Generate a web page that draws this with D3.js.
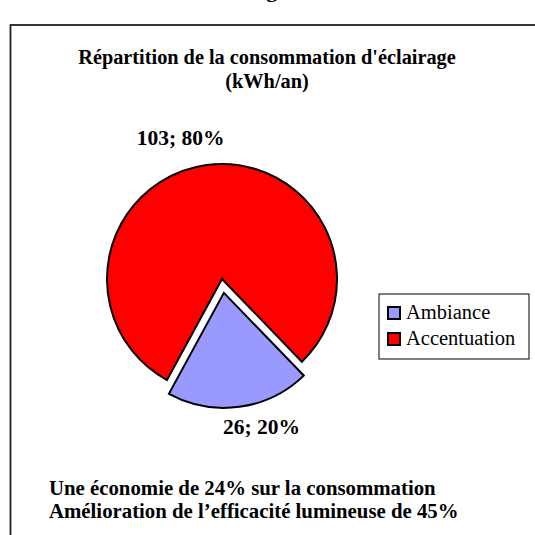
<!DOCTYPE html>
<html>
<head>
<meta charset="utf-8">
<script src="https://cdn.jsdelivr.net/npm/d3@7"></script>
<style>
  body { margin: 0; background: #fff; }
  svg { display: block; font-family: "Liberation Serif", "Times New Roman", serif; }
</style>
</head>
<body>
<svg width="535" height="535"></svg>
<script>
// chart data
var categories = ["Ambiance", "Accentuation"];
var values = [26, 103];
var colors = ["#9999FF", "#FF0000"];
var titleLines = ["Répartition de la consommation d'éclairage", "(kWh/an)"];
var noteLines = ["Une économie de 24% sur la consommation",
                 "Amélioration de l\u2019efficacité lumineuse de 45%"];

var svg = d3.select('svg');

// outer frame (only top and left visible in the crop)
svg.append('rect')
    .attr('x', 10.5).attr('y', 25)
    .attr('width', 700).attr('height', 700)
    .attr('fill', 'none')
    .attr('stroke', '#222')
    .attr('stroke-width', 1.8);

// cut off heading above the frame
svg.append('text')
    .attr('x', 287).attr('y', -3)
    .attr('text-anchor', 'end')
    .style('font-size', '22px')
    .style('font-weight', 'bold')
    .text('Éclairage');

// title
svg.append('g').selectAll('text')
    .data(titleLines)
    .enter().append('text')
    .attr('x', 267)
    .attr('y', function (d, i) { return 64 + i * 24; })
    .attr('text-anchor', 'middle')
    .style('font-size', '20.3px')
    .style('font-weight', 'bold')
    .text(function (d) { return d; });

// pie
var cx = 222, cy = 279, radius = 115, explode = 14;
var total = d3.sum(values);
var pct = d3.format('.0%');

var pie = d3.pie()
    .sort(null)
    .startAngle(136 * Math.PI / 180)
    .endAngle((136 + 360) * Math.PI / 180);

var arc = d3.arc().innerRadius(0).outerRadius(radius);
var labelArc = d3.arc().innerRadius(radius + 30).outerRadius(radius + 30);

var slices = pie(values);

var g = svg.append('g').attr('transform', 'translate(' + cx + ',' + cy + ')');

g.selectAll('path')
    .data(slices)
    .enter().append('path')
    .attr('d', arc)
    .attr('transform', function (d, i) {
        if (i !== 0) return null;
        var a = (d.startAngle + d.endAngle) / 2;
        return 'translate(' + (Math.sin(a) * explode) + ',' + (-Math.cos(a) * explode) + ')';
    })
    .attr('fill', function (d, i) { return colors[i]; })
    .attr('stroke', '#000')
    .attr('stroke-width', 2)
    .attr('stroke-linejoin', 'miter');

// data labels, nudged like the spreadsheet placed them
var labelNudge = [[20, 6], [-22, 5]];
g.selectAll('text.lbl')
    .data(slices)
    .enter().append('text')
    .attr('class', 'lbl')
    .attr('x', function (d, i) { return labelArc.centroid(d)[0] + labelNudge[i][0]; })
    .attr('y', function (d, i) { return labelArc.centroid(d)[1] + labelNudge[i][1]; })
    .attr('text-anchor', 'middle')
    .attr('dominant-baseline', 'middle')
    .style('font-size', '21.5px')
    .style('font-weight', 'bold')
    .text(function (d) { return d.value + '; ' + pct(d.value / total); });

// legend
var legend = svg.append('g').attr('transform', 'translate(379,294)');
legend.append('rect')
    .attr('width', 150).attr('height', 65)
    .attr('fill', '#fff')
    .attr('stroke', '#000')
    .attr('stroke-width', 1);

var item = legend.selectAll('g.item')
    .data(categories)
    .enter().append('g')
    .attr('class', 'item')
    .attr('transform', function (d, i) { return 'translate(9,' + (19 + i * 26) + ')'; });

item.append('rect')
    .attr('x', 0).attr('y', -6)
    .attr('width', 12).attr('height', 12)
    .attr('fill', function (d, i) { return colors[i]; })
    .attr('stroke', '#000')
    .attr('stroke-width', 2);

item.append('text')
    .attr('x', 18).attr('y', 1)
    .attr('dominant-baseline', 'middle')
    .style('font-size', '20.5px')
    .text(function (d) { return d; });

// footnote
svg.append('g').selectAll('text')
    .data(noteLines)
    .enter().append('text')
    .attr('x', 49)
    .attr('y', function (d, i) { return 495 + i * 23; })
    .style('font-size', '20.8px')
    .style('font-weight', 'bold')
    .text(function (d) { return d; });
</script>
</body>
</html>
